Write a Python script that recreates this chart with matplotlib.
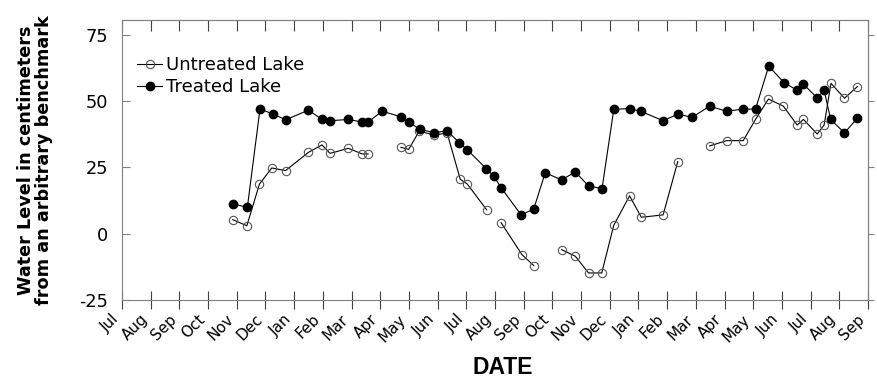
import matplotlib

matplotlib.use("Agg")
import matplotlib.pyplot as plt
import numpy as np

nan = np.nan

# x values: months counted from 1 July of the first year (tick 0 = Jul)
MONTH_LABELS = ["Jul", "Aug", "Sep", "Oct", "Nov", "Dec", "Jan", "Feb", "Mar",
                "Apr", "May", "Jun"] * 2 + ["Jul", "Aug", "Sep"]
LEVEL_TICKS = [-25, 0, 25, 50, 75]

treated_month = [3.86, 4.37, 4.81, 5.26, 5.71, 6.50, 6.97, 7.25, 7.89, 8.37, 8.58,
                 9.06, 9.73, 9.99, 10.37, 10.88, 11.33, 11.76, 12.04, 12.70, 12.95, 13.21,
                 13.91, 14.35, 14.75, 15.32, 15.80, 16.26, 16.73,
                 17.14, 17.69, 18.10, 18.86, 19.37, 19.87, 20.48, 21.07, 21.65, 22.08,
                 22.54, 23.07, 23.53, 23.75, 24.23, 24.47, 24.70, 25.18, 25.63]
treated_level = [11.2, 10.0, 47.1, 45.1, 43.0, 46.6, 43.1, 42.6, 43.1, 42.1, 42.1,
                 46.2, 44.1, 42.2, 39.4, 38.1, 38.8, 34.3, 31.6, 24.5, 21.8, 17.4,
                 7.1, 9.3, 23.0, 20.3, 23.3, 18.0, 17.0,
                 46.9, 47.2, 46.1, 42.6, 45.1, 43.9, 48.1, 46.2, 47.0, 47.0,
                 63.2, 57.0, 54.1, 56.4, 51.2, 54.1, 43.1, 38.0, 43.6]

# nan = break in the record (no line drawn across)
untreated_month = [3.86, 4.35, 4.79, 5.22, 5.70, 6.50, 6.97, 7.25, 7.89, 8.37, 8.58, nan,
                   9.72, 9.99, 10.36, 10.88, 11.33, 11.79, 12.03, 12.71, nan,
                   13.21, 13.94, 14.35, nan,
                   15.32, 15.80, 16.26, 16.72, 17.14, 17.69, 18.10, 18.86, 19.37, nan,
                   20.48, 21.07, 21.65, 22.08, 22.53, 23.05, 23.53, 23.75, 24.23, 24.47,
                   24.71, 25.18, 25.63]
untreated_level = [5.3, 3.0, 18.7, 24.8, 23.8, 30.7, 33.5, 30.3, 32.2, 30.1, 30.1, nan,
                   32.6, 31.8, 38.7, 37.2, 38.0, 20.5, 18.8, 9.0, nan,
                   4.2, -7.9, -12.0, nan,
                   -6.0, -8.5, -14.8, -14.8, 3.2, 14.3, 6.2, 7.1, 27.2, nan,
                   33.1, 35.1, 35.1, 43.1, 50.8, 48.1, 41.0, 43.1, 37.6, 41.0,
                   56.7, 51.1, 55.5]

plt.rcParams["font.family"] = ["DejaVu Sans"]
plt.rcParams["axes.unicode_minus"] = False
cor_eixo = "#808080"

fig = plt.figure(figsize=(8.78, 3.86), dpi=100)
ax = fig.add_axes([122 / 878, 1 - 300 / 386, 746 / 878, 280 / 386])

ax.plot(untreated_month, untreated_level, color="black", lw=0.8,
        marker="o", ms=6, mfc="none", mec="#555555", mew=0.8, label="Untreated Lake")
ax.plot(treated_month, treated_level, color="black", lw=0.8,
        marker="o", ms=6, mfc="black", mec="black", label="Treated Lake")

ax.set_xlim(0, len(MONTH_LABELS) - 1)
ax.set_ylim(-25, 80.6)
ax.set_xticks(range(len(MONTH_LABELS)))
ax.set_xticklabels(MONTH_LABELS, rotation=45, ha="right", va="top", fontsize=11)
ax.set_yticks(LEVEL_TICKS)
ax.tick_params(axis="x", direction="inout", length=13, width=0.8, color="#404040", pad=2)
ax.tick_params(axis="y", direction="in", length=6, width=0.8, color=cor_eixo,
               labelsize=12.8, pad=10)
for spine in ax.spines.values():
    spine.set_color(cor_eixo)
    spine.set_linewidth(0.8)

topo = ax.secondary_xaxis("top")
topo.set_xticks(range(len(MONTH_LABELS)))
topo.tick_params(direction="in", length=8, width=0.8, color="#404040", labeltop=False)
topo.spines["top"].set_color(cor_eixo)
direita = ax.secondary_yaxis("right")
direita.set_yticks(LEVEL_TICKS)
direita.tick_params(direction="out", length=4, width=0.8, color=cor_eixo, labelright=False)
direita.spines["right"].set_color(cor_eixo)

ax.set_ylabel("Water Level in centimeters\nfrom an arbitrary benchmark",
              fontsize=12.7, fontweight="bold", linespacing=1.0, labelpad=19)
fig.text(503 / 878, 1 - 368 / 386, "DATE", ha="center", va="center",
         family="Liberation Sans", fontweight="bold", fontsize=16.5)

ax.legend(loc="upper left", bbox_to_anchor=(0.02, 0.872), frameon=False,
          fontsize=13, handlelength=1.4, handletextpad=0.2, labelspacing=0.25,
          borderaxespad=0, borderpad=0)

fig.savefig("out.png", dpi=100)
